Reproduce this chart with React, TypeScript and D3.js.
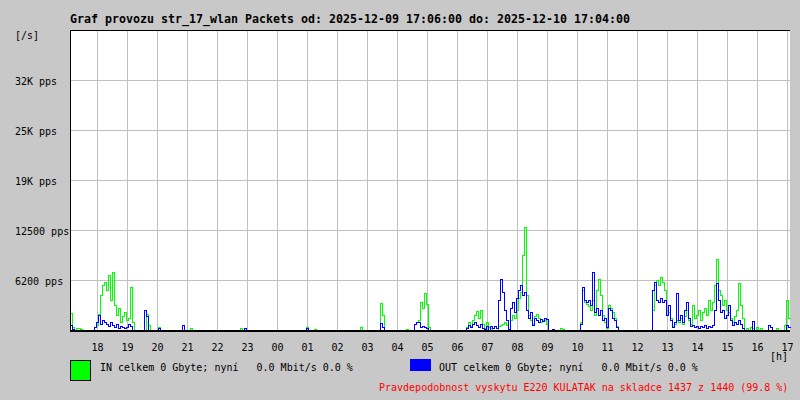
import React from "react";
import * as d3 from "d3";

const TITLE = "Graf provozu str_17_wlan Packets od: 2025-12-09 17:06:00 do: 2025-12-10 17:04:00";
const Y_UNIT = "[/s]";
const X_UNIT = "[h]";
const IN_LABEL = "IN celkem 0 Gbyte; nyní   0.0 Mbit/s 0.0 %";
const OUT_LABEL = "OUT celkem 0 Gbyte; nyní   0.0 Mbit/s 0.0 %";
const NOTE = "Pravdepodobnost vyskytu E220 KULATAK na skladce 1437 z 1440 (99.8 %)";

const START = new Date(2025, 11, 9, 17, 6);
const END = new Date(2025, 11, 10, 17, 6);
const SAMPLE_MINUTES = 4;
const Y_MAX = 37500;
const yTickValues = [6250, 12500, 18750, 25000, 31250];
const yTickLabels = ["6200 pps", "12500 pps", "19K pps", "25K pps", "32K pps"];

// IN packets/s, one sample every 4 minutes from 17:06
const inValues = [
  2100, 380, 0, 250, 250, 120, 0, 0, 0, 0, 0, 0, 380, 620, 2000, 4400, 5600, 6000, 5000, 6900,
  3750, 7250, 3100, 1900, 2750, 1000, 1750, 2250, 1250, 1500, 5400, 1000, 0, 0, 0, 0, 0, 0, 2000, 620,
  0, 0, 0, 0, 380, 0, 0, 0, 0, 0, 0, 0, 0, 0, 0, 0, 0, 0, 0, 0,
  250, 0, 0, 0, 0, 0, 0, 0, 0, 0, 0, 0, 0, 0, 0, 0, 0, 0, 0, 0,
  0, 0, 0, 0, 0, 250, 0, 0, 0, 0, 0, 0, 0, 0, 0, 0, 0, 0, 0, 0,
  0, 0, 0, 0, 0, 0, 0, 0, 0, 0, 0, 0, 0, 0, 0, 0, 0, 0, 380, 0,
  0, 0, 120, 0, 0, 0, 0, 0, 0, 0, 0, 0, 0, 0, 0, 0, 0, 0, 0, 0,
  0, 0, 0, 0, 0, 380, 0, 0, 0, 0, 0, 0, 0, 0, 0, 3400, 1900, 0, 0, 0,
  0, 0, 0, 0, 0, 0, 0, 0, 120, 0, 0, 0, 750, 1000, 1250, 3500, 2750, 4600, 3250, 380,
  0, 0, 0, 0, 0, 0, 0, 0, 0, 0, 0, 0, 0, 0, 0, 0, 0, 0, 380, 1000,
  500, 1250, 1900, 2400, 1500, 2500, 750, 250, 1000, 380, 250, 0, 0, 0, 500, 620, 750, 1000, 620, 0,
  1250, 1900, 1500, 2500, 4000, 4750, 9400, 12900, 4400, 1900, 1250, 750, 1750, 2000, 1500, 1000, 1250, 1250, 750, 0,
  0, 0, 0, 0, 0, 250, 120, 0, 0, 0, 0, 0, 0, 0, 0, 1000, 5000, 3500, 3250, 3000,
  2500, 3750, 1900, 5000, 6400, 4400, 1900, 1000, 250, 3100, 2750, 2250, 1500, 500, 0, 0, 0, 0, 0, 0,
  0, 0, 0, 0, 0, 0, 0, 0, 0, 0, 0, 2500, 5600, 6250, 5600, 6600, 6000, 5000, 2500, 2250,
  1500, 500, 750, 1250, 1000, 1500, 750, 1750, 2500, 1250, 750, 3100, 1500, 1900, 2500, 1250, 2250, 2750, 1900, 3750,
  2500, 3500, 5600, 8900, 5000, 4400, 3100, 3750, 2500, 2250, 1500, 1000, 1750, 2500, 5900, 3100, 1500, 0, 250, 0,
  380, 250, 0, 380, 0, 250, 0, 0, 0, 0, 0, 0, 0, 250, 0, 0, 0, 620, 3750, 1500,
];

// OUT packets/s, one sample every 4 minutes from 17:06
const outValues = [
  620, 120, 0, 0, 0, 0, 0, 0, 0, 0, 0, 0, 380, 1000, 1900, 750, 1250, 1000, 750, 500,
  1000, 620, 380, 750, 250, 500, 380, 250, 380, 750, 500, 0, 0, 0, 0, 0, 0, 2500, 1750, 0,
  0, 0, 0, 0, 250, 0, 0, 0, 0, 0, 0, 0, 0, 0, 0, 0, 620, 0, 0, 0,
  0, 0, 0, 0, 0, 0, 0, 0, 0, 0, 0, 0, 0, 0, 0, 0, 0, 0, 0, 0,
  0, 0, 0, 0, 0, 0, 0, 250, 0, 0, 0, 0, 0, 0, 0, 0, 0, 0, 0, 0,
  0, 0, 0, 0, 0, 0, 0, 0, 0, 0, 0, 0, 0, 0, 0, 0, 0, 0, 250, 0,
  0, 0, 0, 0, 0, 0, 0, 0, 0, 0, 0, 0, 0, 0, 0, 0, 0, 0, 0, 0,
  0, 0, 0, 0, 0, 0, 0, 0, 0, 0, 0, 0, 0, 0, 0, 880, 380, 0, 0, 0,
  0, 0, 0, 0, 0, 0, 0, 0, 0, 0, 0, 0, 750, 1000, 1000, 380, 500, 380, 250, 0,
  0, 0, 0, 0, 0, 0, 0, 0, 0, 0, 0, 0, 0, 0, 0, 0, 0, 0, 250, 620,
  380, 750, 1000, 620, 380, 750, 250, 120, 500, 0, 500, 250, 500, 250, 3750, 6400, 4750, 2500, 1250, 120,
  2750, 3500, 2250, 4000, 5000, 5600, 4400, 4750, 2500, 1500, 2250, 620, 1500, 1250, 1000, 1400, 1100, 1500, 1400, 0,
  0, 120, 0, 0, 0, 0, 0, 0, 0, 0, 0, 0, 0, 0, 0, 750, 5400, 3750, 3500, 3750,
  3100, 7300, 2250, 2750, 1900, 2500, 1250, 1500, 380, 2750, 2500, 1500, 1250, 380, 0, 0, 0, 0, 0, 0,
  0, 0, 0, 0, 0, 0, 0, 0, 0, 0, 0, 5000, 6000, 3750, 3500, 4000, 3500, 3750, 1900, 3100,
  1250, 380, 1000, 4600, 1250, 1900, 1000, 2500, 3500, 1500, 500, 620, 380, 500, 250, 500, 380, 620, 250, 500,
  380, 620, 2500, 5900, 3750, 2250, 2500, 1500, 1900, 3100, 1250, 620, 1000, 750, 1250, 750, 250, 0, 0, 0,
  0, 1100, 0, 0, 0, 0, 0, 0, 0, 620, 380, 0, 0, 0, 0, 0, 0, 0, 620, 380,
];

const BG = "#c8c8c8";
const GRID = "#c0c0c0";
const IN_COLOR = "#00ff00";
const OUT_COLOR = "#0000ff";
const MONO = "'DejaVu Sans Mono', 'Liberation Mono', monospace";

type Pt = [Date, number];

export default function App() {
  const x = d3.scaleTime().domain([START, END]).range([70, 790]);
  const y = d3.scaleLinear().domain([0, Y_MAX]).range([330, 30]);
  const hours = x.ticks(d3.timeHour.every(1)!).filter((t) => t > START && t < END);
  const fmt = d3.timeFormat("%H");

  const toPoints = (vals: number[]): Pt[] => {
    const pts: Pt[] = vals.map((v, i) => [new Date(START.getTime() + i * SAMPLE_MINUTES * 60000), v]);
    pts.push([END, vals[vals.length - 1]]);
    return pts;
  };
  const line = d3
    .line<Pt>()
    .x((d) => Math.round(x(d[0])) + 0.5)
    .y((d) => Math.round(y(d[1])) + 0.5)
    .curve(d3.curveStepAfter);

  const [x0, x1] = x.range();
  const [yb, yt] = y.range();

  return (
    <svg
      width={800}
      height={400}
      style={{ position: "absolute", left: 0, top: 0, display: "block", background: BG }}
      fontFamily={MONO}
    >
      <rect x={0} y={0} width={800} height={400} fill={BG} />
      <rect x={x0} y={yt} width={x1 - x0} height={yb - yt} fill="#ffffff" />
      <g shapeRendering="crispEdges" stroke={GRID} strokeWidth={1}>
        {hours.map((h, i) => (
          <line key={i} x1={Math.round(x(h)) + 0.5} x2={Math.round(x(h)) + 0.5} y1={yt} y2={yb} />
        ))}
        {yTickValues.map((v, i) => (
          <line key={i} x1={x0} x2={x1} y1={Math.round(y(v)) + 0.5} y2={Math.round(y(v)) + 0.5} />
        ))}
      </g>
      <path d={line(toPoints(inValues)) || ""} fill="none" stroke={IN_COLOR} strokeWidth={1} shapeRendering="crispEdges" />
      <path d={line(toPoints(outValues)) || ""} fill="none" stroke={OUT_COLOR} strokeWidth={1} shapeRendering="crispEdges" />
      <g shapeRendering="crispEdges" fill="#000">
        <rect x={x0} y={yt} width={x1 - x0} height={1} />
        <rect x={x0} y={yt} width={1} height={yb - yt + 2} />
        <rect x={x0} y={yb} width={x1 - x0} height={2} />
      </g>
      <text x={70} y={23} fontSize={11.63} fontWeight="bold" fill="#000">
        {TITLE}
      </text>
      <text x={15} y={39} fontSize={10} fill="#000">
        {Y_UNIT}
      </text>
      {yTickValues.map((v, i) => (
        <text key={i} x={15} y={Math.round(y(v)) + 5} fontSize={10} fill="#000" style={{ whiteSpace: "pre" }}>
          {yTickLabels[i]}
        </text>
      ))}
      {hours.map((h, i) => (
        <text key={i} x={Math.round(x(h)) + 0.5} y={351} fontSize={10} fill="#000" textAnchor="middle">
          {fmt(h)}
        </text>
      ))}
      <text x={770} y={360} fontSize={10} fill="#000">
        {X_UNIT}
      </text>
      <rect x={70.5} y={360.5} width={20} height={20} fill={IN_COLOR} stroke="#000" strokeWidth={1} shapeRendering="crispEdges" />
      <text x={100} y={371} fontSize={10} fill="#000" style={{ whiteSpace: "pre" }}>
        {IN_LABEL}
      </text>
      <rect x={410} y={359} width={21} height={12} fill={OUT_COLOR} shapeRendering="crispEdges" />
      <text x={439} y={371} fontSize={10} fill="#000" style={{ whiteSpace: "pre" }}>
        {OUT_LABEL}
      </text>
      <text x={379} y={391} fontSize={10} fill="#ff0000" style={{ whiteSpace: "pre" }}>
        {NOTE}
      </text>
    </svg>
  );
}
